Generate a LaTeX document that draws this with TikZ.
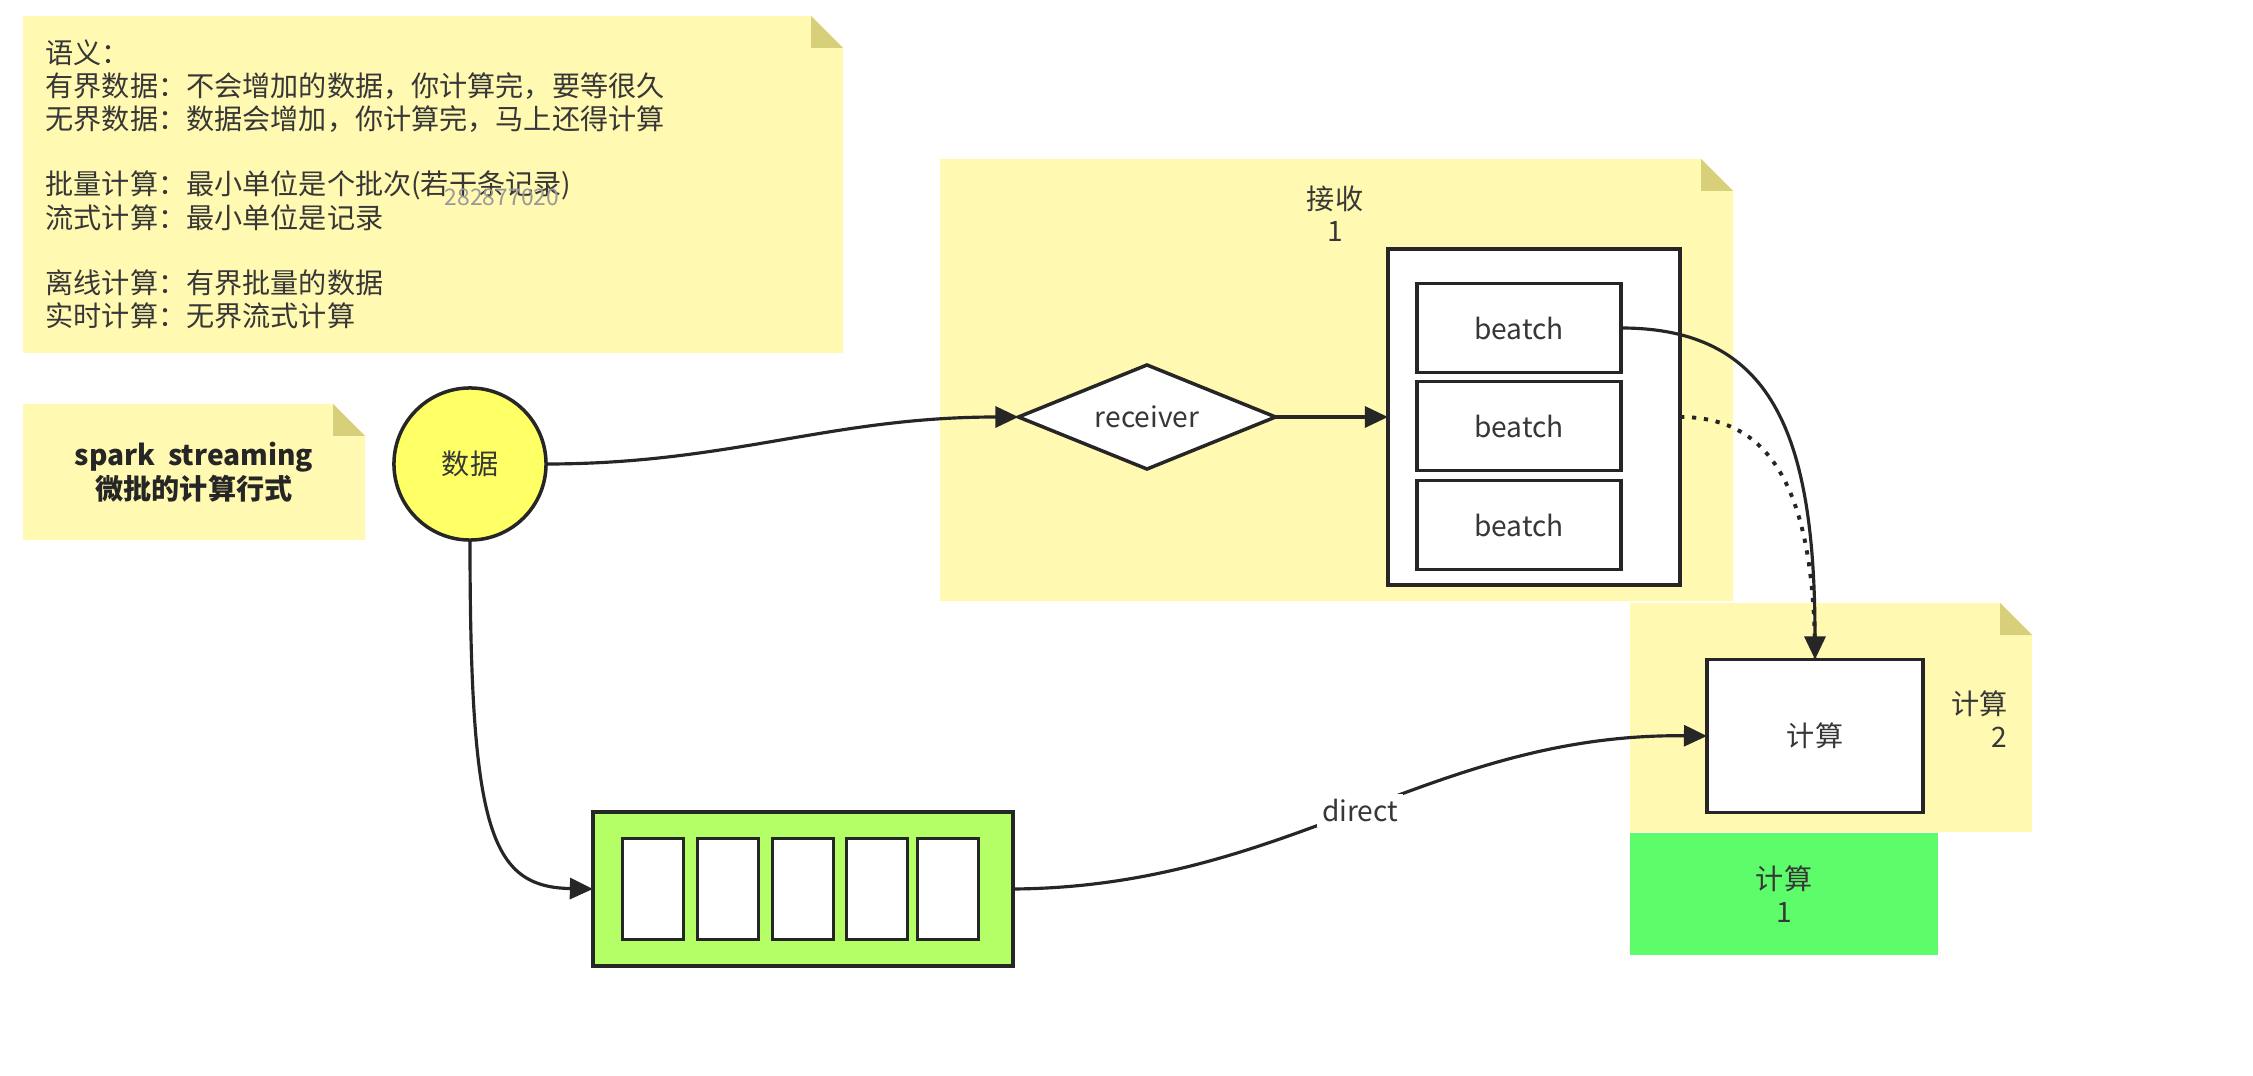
\documentclass[tikz,border=0pt]{standalone}
\usepackage{fontspec}
\setmainfont{Noto Sans CJK SC}
\usetikzlibrary{shapes.geometric,arrows.meta}
\definecolor{notefill}{RGB}{255,249,177}
\definecolor{notefold}{RGB}{216,207,122}
\definecolor{stroke}{RGB}{38,38,38}
\definecolor{txt}{RGB}{55,55,55}
\definecolor{circfill}{RGB}{255,255,102}
\definecolor{queuefill}{RGB}{180,255,102}
\definecolor{greenfill}{RGB}{92,252,106}
\newcommand\stickynote[4]{%
  \fill[notefill] (#1,#2) -- ({#3-32},#2) -- (#3,{#2+32}) -- (#3,#4) -- (#1,#4) -- cycle;
  \fill[notefold] ({#3-32},#2) -- ({#3-32},{#2+32}) -- (#3,{#2+32}) -- cycle;}
\begin{document}
\begin{tikzpicture}[x=0.01cm,y=-0.01cm,
  lbl/.style={text=txt, font=\fontsize{8}{9.2}\selectfont, inner sep=0pt},
  notetext/.style={lbl, anchor=west},
  shapebase/.style={draw=stroke, line width=1pt, fill=white, inner sep=0pt, outer sep=0pt, lbl},
  circ/.style={shapebase, circle, fill=circfill, minimum size=1.52cm},
  dia/.style={shapebase, diamond, aspect=2.47, minimum width=2.57cm, minimum height=1.04cm},
  outerbox/.style={shapebase, rectangle, minimum width=2.92cm, minimum height=3.36cm},
  bbox/.style={shapebase, rectangle, minimum width=2.04cm, minimum height=0.89cm},
  cbox/.style={shapebase, rectangle, minimum width=2.16cm, minimum height=1.53cm},
  queuebox/.style={shapebase, rectangle, fill=queuefill, minimum width=4.2cm, minimum height=1.54cm},
  slot/.style={shapebase, rectangle, minimum width=0.61cm, minimum height=1.01cm},
  greenbox/.style={rectangle, fill=greenfill, minimum width=3.08cm, minimum height=1.22cm, inner sep=0pt, lbl, align=center},
  conn/.style={draw=stroke, line width=0.9pt, -{Triangle[length=0.23cm,width=0.21cm]}},
  dotconn/.style={draw=stroke, line width=1.1pt, dash pattern=on 1.2pt off 2.2pt}
]
\useasboundingbox (0,0) rectangle (2253,1076);
\fill[white] (0,0) rectangle (2253,1076);

% sticky notes
\stickynote{23}{16}{843}{353}
\stickynote{23}{404}{365}{540}
\stickynote{940}{159}{1733}{601}
\stickynote{1630}{603}{2032}{832}

% note 1 text
\node[notetext] (t1) at (45,53) {语义：};
\node[notetext] (t2) at (45,86) {有界数据：不会增加的数据，你计算完，要等很久};
\node[notetext] (t3) at (45,119) {无界数据：数据会增加，你计算完，马上还得计算};
\node[notetext] (t4) at (45,185) {批量计算：最小单位是个批次(若干条记录)};
\node[notetext] (t5) at (45,218) {流式计算：最小单位是记录};
\node[notetext] (t6) at (45,283) {离线计算：有界批量的数据};
\node[notetext] (t7) at (45,316) {实时计算：无界流式计算};
\node[lbl, text=black!40, font=\fontsize{6.5}{7}\selectfont] (wm) at (502,197) {282877020};

% note 2 text
\node[lbl, text=black!85, font=\fontsize{8}{9.6}\selectfont\bfseries, align=center] (sp) at (194,472) {spark\ \ streaming\\微批的计算行式};

% note 3 / 4 titles
\node[lbl, align=center, font=\fontsize{8}{9.2}\selectfont] (recvtitle) at (1335,214) {接收\\1};
\node[lbl, align=right, anchor=east, font=\fontsize{8}{9.2}\selectfont] (calctitle) at (2008,719) {计算\\2};

% main nodes
\node[circ] (data) at (470,464) {数据};
\node[dia] (recv) at (1147,417) {receiver};
\node[outerbox] (batches) at (1534,417) {};
\node[bbox] (b1) at (1519,328) {beatch};
\node[bbox] (b2) at (1519,426) {beatch};
\node[bbox] (b3) at (1519,525) {beatch};
\node[cbox] (calc) at (1815,736) {计算};
\node[queuebox] (q) at (803,889) {};
\node[slot] (s1) at (653,889) {};
\node[slot] (s2) at (728,889) {};
\node[slot] (s3) at (803,889) {};
\node[slot] (s4) at (877,889) {};
\node[slot] (s5) at (948,889) {};
\node[greenbox] (g) at (1784,894) {计算\\1};

% connectors
\draw[conn] (data.east) .. controls (730,464) and (830,417) .. (recv.west);
\draw[conn] (data.south) .. controls (470,830) and (490,887) .. (q.west);
\draw[conn] (recv.east) -- (batches.west);
\draw[dotconn] (batches.east) .. controls (1765,417) and (1815,480) .. (calc.north);
\draw[conn] (b1.east) .. controls (1770,328) and (1815,430) .. (calc.north);
\draw[conn] (q.east) .. controls (1290,887) and (1430,733) .. node[lbl, fill=white, inner sep=1.5pt] (dlbl) {direct} (calc.west);
\end{tikzpicture}
\end{document}
